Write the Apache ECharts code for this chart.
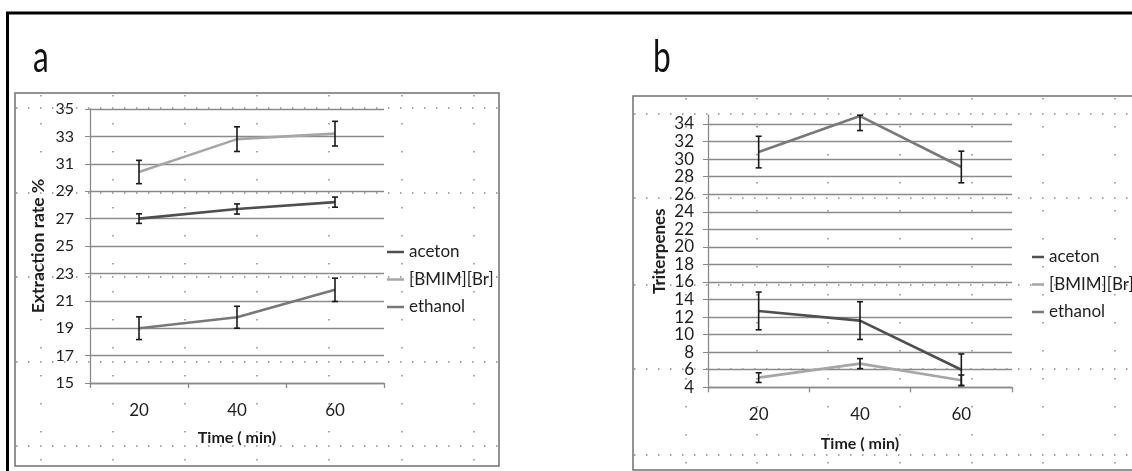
<!DOCTYPE html>
<html><head><meta charset="utf-8">
<script src="https://cdn.jsdelivr.net/npm/echarts@6/dist/echarts.min.js"></script>
<style>html,body{margin:0;padding:0;background:#fff}#c{width:1132px;height:471px}</style>
</head><body><div id="c"></div>
<script>
// ---- data ----
const categories = ['20', '40', '60'];
const seriesNames = ['aceton', '[BMIM][Br]', 'ethanol'];
// panel a: Extraction rate %
const aAceton = [27.0, 27.7, 28.2];
const aAcetonErr = [0.35, 0.37, 0.37];
const aBmim = [30.4, 32.8, 33.2];
const aBmimErr = [0.85, 0.9, 0.9];
const aEthanol = [19.0, 19.8, 21.8];
const aEthanolErr = [0.83, 0.8, 0.85];
// panel b: Triterpenes
const bAceton = [12.7, 11.6, 6.0];
const bAcetonErr = [2.15, 2.15, 1.8];
const bBmim = [5.1, 6.7, 4.8];
const bBmimErr = [0.55, 0.57, 0.6];
const bEthanol = [30.8, 34.9, 29.1];
const bEthanolErr = [1.8, 1.65, 1.8];
// axis ranges (tick labels)
const aYMin = 15, aYMax = 35, aYStep = 2;
const bYMin = 4, bYMax = 35, bYStep = 2;
const panelLabels = ['a', 'b'];
const xTitle = 'Time ( min)';
const aYTitle = 'Extraction rate %';
const bYTitle = 'Triterpenes';

// ---- styles ----
const FONT = 'Lato, "Open Sans", sans-serif';
const TXT = '#1e1e1e';
const colors = {'aceton': '#4f4f4f', '[BMIM][Br]': '#a6a6a6', 'ethanol': '#787878'};
const gridColor = '#8a8a8a';
const dotColor = '#8c8c8c';

function errData(vals, errs, maxV) {
  return vals.map((v, i) => [i, v - errs[i], Math.min(v + errs[i], maxV)]);
}
function errRender(params, api) {
  const x = api.value(0);
  const pLo = api.coord([x, api.value(1)]);
  const pHi = api.coord([x, api.value(2)]);
  const w = 3;
  const st = {stroke: '#1a1a1a', lineWidth: 1.6};
  return {type: 'group', children: [
    {type: 'line', shape: {x1: pLo[0], y1: pLo[1], x2: pHi[0], y2: pHi[1]}, style: st},
    {type: 'line', shape: {x1: pLo[0] - w, y1: pLo[1], x2: pLo[0] + w, y2: pLo[1]}, style: st},
    {type: 'line', shape: {x1: pHi[0] - w, y1: pHi[1], x2: pHi[0] + w, y2: pHi[1]}, style: st}
  ]};
}
function lineSeries(name, data, idx) {
  return {type: 'line', name, data, xAxisIndex: idx, yAxisIndex: idx, symbol: 'none', showSymbol: false,
    lineStyle: {width: 2.6, color: colors[name]}, itemStyle: {color: colors[name]}, z: 2};
}
function errSeries(name, vals, errs, maxV, idx) {
  return {type: 'custom', name: name + ' err', xAxisIndex: idx, yAxisIndex: idx,
    renderItem: errRender, data: errData(vals, errs, maxV), z: 3, silent: true};
}

// splitLine colors for panel b: hide the extra line drawn at the axis max (35)
const bSplitColors = [];
for (let v = bYMin; v <= bYMax - 1; v += bYStep) bSplitColors.push(gridColor);
bSplitColors.push('transparent');

function xAxis(idx, gap) {
  return {type: 'category', gridIndex: idx, data: categories, boundaryGap: true,
    axisLine: {lineStyle: {color: gridColor, width: 1.3}},
    axisTick: {show: true, length: 5, lineStyle: {color: gridColor, width: 1.3}},
    axisLabel: {margin: 19, fontSize: 17, fontFamily: FONT, color: TXT},
    name: xTitle, nameLocation: 'middle', nameGap: gap,
    nameTextStyle: {fontSize: 16, fontWeight: 'bold', fontFamily: FONT, color: TXT}};
}
function legendItems() {
  return seriesNames.map(n => ({name: n, icon: 'rect', itemStyle: {color: colors[n]}}));
}

// dotted spreadsheet cell lines behind the charts
const graphics = [];
function hDots(ys, x1, x2) {
  ys.forEach(y => graphics.push({type: 'line', z: -5, silent: true,
    shape: {x1, y1: y, x2, y2: y}, style: {stroke: dotColor, lineWidth: 1.5, lineDash: [1.5, 10.5]}}));
}
function vDots(xs, y1, y2) {
  xs.forEach(x => graphics.push({type: 'line', z: -5, silent: true,
    shape: {x1: x, y1, x2: x, y2}, style: {stroke: dotColor, lineWidth: 1.5, lineDash: [1.5, 26.5]}}));
}
hDots([108, 193, 277, 362, 446], 16, 498);
vDots([41, 113, 185, 257, 329, 402, 474], 95, 465);
hDots([114, 198, 285, 369, 455], 634, 1132);
vDots([686, 757, 828, 900, 972, 1043, 1115], 98, 470);
// panel boxes
graphics.push({type: 'rect', z: -4, silent: true, shape: {x: 15, y: 93, width: 484, height: 373},
  style: {fill: 'none', stroke: '#707070', lineWidth: 1.5}});
graphics.push({type: 'rect', z: -4, silent: true, shape: {x: 633, y: 96, width: 540, height: 374},
  style: {fill: 'none', stroke: '#707070', lineWidth: 1.5}});
// outer frame
graphics.push({type: 'line', silent: true, shape: {x1: 6, y1: 13, x2: 1132, y2: 13}, style: {stroke: '#000', lineWidth: 3}});
graphics.push({type: 'line', silent: true, shape: {x1: 7.5, y1: 12, x2: 7.5, y2: 471}, style: {stroke: '#000', lineWidth: 3}});
// panel letters
graphics.push({type: 'text', x: 33, y: 58, scaleX: 0.72, silent: true,
  style: {text: panelLabels[0], x: 0, y: 0, fontSize: 44, fontFamily: FONT, fill: '#111', verticalAlign: 'middle'}});
graphics.push({type: 'text', x: 653, y: 58, scaleX: 0.72, silent: true,
  style: {text: panelLabels[1], x: 0, y: 0, fontSize: 44, fontFamily: FONT, fill: '#111', verticalAlign: 'middle'}});

const chart = echarts.init(document.getElementById('c'), null, {renderer: 'canvas'});
chart.setOption({
  animation: false,
  backgroundColor: '#fff',
  graphic: {elements: graphics},
  grid: [
    {left: 90, top: 109, right: 748, bottom: 88, containLabel: false},
    {left: 708, top: 115.2, right: 120, bottom: 83.7, containLabel: false}
  ],
  legend: [
    {left: 382, top: 238, orient: 'vertical', itemWidth: 17, itemHeight: 2.5, itemGap: 9.5,
      textStyle: {fontFamily: FONT, fontSize: 17, color: TXT, lineHeight: 18}, data: legendItems(),
      selectedMode: false},
    {left: 1027, top: 243, orient: 'vertical', itemWidth: 12, itemHeight: 2.5, itemGap: 9.5,
      textStyle: {fontFamily: FONT, fontSize: 17, color: TXT, lineHeight: 18}, data: legendItems(),
      selectedMode: false}
  ],
  xAxis: [xAxis(0, 47), xAxis(1, 49)],
  yAxis: [
    {type: 'value', gridIndex: 0, min: aYMin, max: aYMax, interval: aYStep,
      axisLine: {show: true, lineStyle: {color: gridColor, width: 1.3}},
      axisTick: {show: true, length: 5, lineStyle: {color: gridColor}},
      splitLine: {show: true, lineStyle: {color: gridColor, width: 1.3}},
      axisLabel: {margin: 16, fontSize: 16, fontFamily: FONT, color: TXT},
      name: aYTitle, nameLocation: 'middle', nameGap: 43,
      nameTextStyle: {fontSize: 17.5, fontWeight: 'bold', fontFamily: FONT, color: TXT}},
    {type: 'value', gridIndex: 1, min: bYMin, max: bYMax, interval: bYStep,
      axisLine: {show: true, lineStyle: {color: gridColor, width: 1.3}},
      axisTick: {show: true, length: 5, lineStyle: {color: gridColor}},
      splitLine: {show: true, lineStyle: {color: bSplitColors, width: 1.3}},
      axisLabel: {margin: 14, fontSize: 17, fontFamily: FONT, color: TXT, showMaxLabel: false,
        formatter: v => (v === bYMax ? '' : String(v))},
      name: bYTitle, nameLocation: 'middle', nameGap: 40,
      nameTextStyle: {fontSize: 17, fontWeight: 'bold', fontFamily: FONT, color: TXT}}
  ],
  series: [
    lineSeries('aceton', aAceton, 0),
    lineSeries('[BMIM][Br]', aBmim, 0),
    lineSeries('ethanol', aEthanol, 0),
    errSeries('aceton', aAceton, aAcetonErr, aYMax, 0),
    errSeries('[BMIM][Br]', aBmim, aBmimErr, aYMax, 0),
    errSeries('ethanol', aEthanol, aEthanolErr, aYMax, 0),
    lineSeries('aceton', bAceton, 1),
    lineSeries('[BMIM][Br]', bBmim, 1),
    lineSeries('ethanol', bEthanol, 1),
    errSeries('aceton', bAceton, bAcetonErr, bYMax, 1),
    errSeries('[BMIM][Br]', bBmim, bBmimErr, bYMax, 1),
    errSeries('ethanol', bEthanol, bEthanolErr, bYMax, 1)
  ]
});
</script>
</body></html>
